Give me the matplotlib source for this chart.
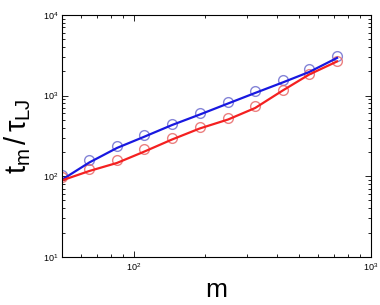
import numpy as np
import matplotlib
matplotlib.use('Agg')
import matplotlib.pyplot as plt
from matplotlib.ticker import LogLocator, NullFormatter

plt.rcParams['font.family'] = ['Liberation Sans', 'DejaVu Sans']
plt.rcParams['mathtext.fontset'] = 'custom'
plt.rcParams['mathtext.rm'] = 'Liberation Sans'
plt.rcParams['mathtext.it'] = 'Liberation Sans'
plt.rcParams['mathtext.sf'] = 'Liberation Sans'

# chain length m
m = [50, 65, 85, 110, 145, 190, 250, 325, 425, 550, 720]

# simulation points
blue_pts = [103, 159, 237, 325, 449, 603, 834, 1152, 1562, 2120, 3070]
red_pts = [97, 123, 160, 215, 301, 405, 532, 750, 1173, 1870, 2710]

# curves drawn through the points
blue_line = [91, 148, 224, 306, 431, 582, 798, 1077, 1455, 1963, 2930]
red_line = [89, 116, 146, 200, 285, 391, 505, 701, 1156, 1828, 2649]

fig = plt.figure(figsize=(3.8, 3.05), dpi=100)
ax = fig.add_axes([0.164, 0.158, 0.812, 0.793])

ax.plot(m, blue_pts, 'o', mfc='none', mec='#6f6fd0', ms=7, mew=1.0, alpha=0.85)
ax.plot(m, red_pts, 'o', mfc='none', mec='#e86a6a', ms=7, mew=1.0, alpha=0.85)
ax.plot(m, blue_line, color='#1818e0', lw=1.6)
ax.plot(m, red_line, color='#f42020', lw=1.6)

ax.set_xscale('log')
ax.set_yscale('log')
ax.set_xlim(50, 1000)
ax.set_ylim(10, 10000)

ax.xaxis.set_major_locator(LogLocator(base=10, numticks=10))
ax.yaxis.set_major_locator(LogLocator(base=10, numticks=10))
ax.xaxis.set_minor_locator(LogLocator(base=10, subs=np.arange(2, 10), numticks=20))
ax.yaxis.set_minor_locator(LogLocator(base=10, subs=np.arange(2, 10), numticks=20))
ax.xaxis.set_minor_formatter(NullFormatter())
ax.yaxis.set_minor_formatter(NullFormatter())

ax.tick_params(which='both', direction='in', top=True, right=True, labelsize=6.5, width=0.6)
ax.tick_params(which='major', length=4, pad=3)
ax.tick_params(which='minor', length=2.2)
for s in ax.spines.values():
    s.set_linewidth(0.8)

ax.set_xlabel('m', fontsize=19, labelpad=4)
ax.set_ylabel(r'$t_m\,/\,\tau_{LJ}$', fontsize=21, labelpad=7)

fig.savefig('out.png', dpi=100)
